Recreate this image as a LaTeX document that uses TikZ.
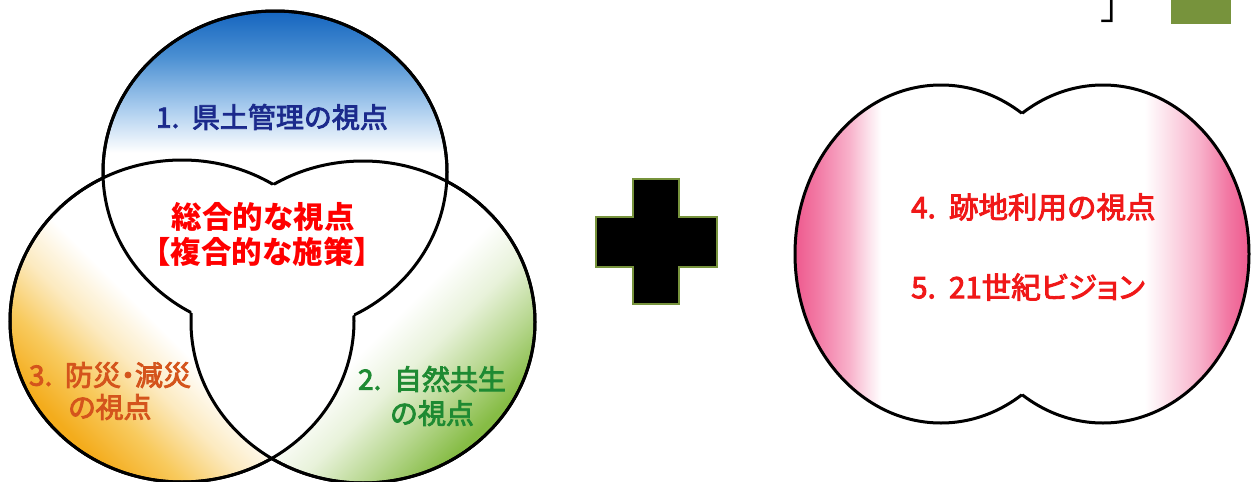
\documentclass[tikz,border=0pt]{standalone}
\usepackage{fontspec}
\newfontfamily\jp{Noto Sans CJK JP}
\newfontfamily\jpm[FakeBold=3]{Noto Sans CJK JP}
\newfontfamily\jpp[RawFeature=+palt,FakeBold=3]{Noto Sans CJK JP}
\definecolor{blueA}{HTML}{1565BF}
\definecolor{blueB}{HTML}{4A8FD2}
\definecolor{blueC}{HTML}{A9CCEE}
\definecolor{orA}{HTML}{F4AC1C}
\definecolor{orB}{HTML}{F8CA5E}
\definecolor{orC}{HTML}{FCEAC0}
\definecolor{grA}{HTML}{86BC45}
\definecolor{grB}{HTML}{B9D892}
\definecolor{grC}{HTML}{E8F2DA}
\definecolor{pkA}{HTML}{EE5A8E}
\definecolor{pkB}{HTML}{F27AA5}
\definecolor{pkC}{HTML}{F8B2CB}
\definecolor{pkD}{HTML}{FCE0EA}
\definecolor{olv}{HTML}{77933C}
\definecolor{navy}{HTML}{1B2A8C}
\definecolor{txtor}{HTML}{D4541C}
\definecolor{txtgr}{HTML}{1E8A32}
\definecolor{txtrd}{HTML}{FF0000}
\definecolor{txtpk}{HTML}{F01818}
\pgfdeclareverticalshading{topsh}{100bp}{color(0bp)=(white); color(53bp)=(white); color(60bp)=(blueC); color(68bp)=(blueB); color(75bp)=(blueA); color(100bp)=(blueA)}
\pgfdeclareverticalshading{orsh}{100bp}{color(0bp)=(orA); color(26bp)=(orA); color(33bp)=(orB); color(40bp)=(orC); color(47bp)=(white); color(100bp)=(white)}
\pgfdeclareverticalshading{grsh}{100bp}{color(0bp)=(grA); color(26bp)=(grA); color(33bp)=(grB); color(40bp)=(grC); color(47bp)=(white); color(100bp)=(white)}
\pgfdeclarehorizontalshading{pksh}{100bp}{color(0bp)=(pkA); color(25bp)=(pkA); color(27.5bp)=(pkB); color(31bp)=(pkC); color(33bp)=(pkD); color(34.5bp)=(white); color(63.5bp)=(white); color(66bp)=(pkD); color(69.5bp)=(pkC); color(72.5bp)=(pkB); color(75bp)=(pkA); color(100bp)=(pkA)}
\newcommand\numgap{\hspace{0.45em}}
\begin{document}
\begin{tikzpicture}[x=1pt,y=-1pt,
  outl/.style={line width=3pt, black},
  outer/.style={insert path={(-20,-20) -- (-20,520) -- (1290,520) -- (1290,-20) -- cycle}},
  lbl/.style={inner sep=0pt, font=\jpm\fontsize{28}{28}\selectfont}]
\useasboundingbox (0,0) rectangle (1251,482);
\fill[white] (0,0) rectangle (1251,482);
\coordinate (cT) at (275,172);
\coordinate (cL) at (182,321);
\coordinate (cR) at (363,322);
\coordinate (pL) at (941,254);
\coordinate (pR) at (1103,254);
% fills of exclusive regions
\begin{scope}
  \clip (cL) ellipse (172 and 161) [outer];
  \clip (cR) ellipse (172 and 161) [outer];
  \shade[shading=topsh] (cT) ellipse (172 and 161);
\end{scope}
\begin{scope}
  \clip (cT) ellipse (172 and 161) [outer];
  \clip (cR) ellipse (172 and 161) [outer];
  \shade[shading=orsh, shading angle=-45] (cL) ellipse (172 and 161);
\end{scope}
\begin{scope}
  \clip (cT) ellipse (172 and 161) [outer];
  \clip (cL) ellipse (172 and 161) [outer];
  \shade[shading=grsh, shading angle=45] (cR) ellipse (172 and 161);
\end{scope}
% outlines
\begin{scope}\clip (cL) ellipse (172 and 161) [outer]; \draw[outl] (cT) ellipse (172 and 161); \end{scope}
\begin{scope}\clip (cR) ellipse (172 and 161) [outer]; \draw[outl] (cT) ellipse (172 and 161); \end{scope}
\begin{scope}\clip (cT) ellipse (172 and 161) [outer]; \draw[outl] (cL) ellipse (172 and 161); \end{scope}
\begin{scope}\clip (cR) ellipse (172 and 161) [outer]; \draw[outl] (cL) ellipse (172 and 161); \end{scope}
\begin{scope}\clip (cT) ellipse (172 and 161) [outer]; \draw[outl] (cR) ellipse (172 and 161); \end{scope}
\begin{scope}\clip (cL) ellipse (172 and 161) [outer]; \draw[outl] (cR) ellipse (172 and 161); \end{scope}
% pink shape
\shade[shading=pksh] (pL) ellipse (146 and 169) (pR) ellipse (146 and 169);
\begin{scope}\clip (pR) ellipse (146 and 169) [outer]; \draw[outl] (pL) ellipse (146 and 169); \end{scope}
\begin{scope}\clip (pL) ellipse (146 and 169) [outer]; \draw[outl] (pR) ellipse (146 and 169); \end{scope}
% plus sign
\draw[fill=black, draw=olv, line width=1.5pt] (633,179) -- (679,179) -- (679,217) -- (717,217) -- (717,267) -- (679,267) -- (679,304) -- (633,304) -- (633,267) -- (596,267) -- (596,217) -- (633,217) -- cycle;
% top right
\fill[olv] (1171,0) rectangle (1231,24);
\node[inner sep=0pt, anchor=base west, font=\jp\fontsize{36}{36}\selectfont] (n0) at (1100,19.6) {」};
% labels
\node[lbl, text=navy] (n1) at (272,117) {1.\numgap 県土管理の視点};
\node[lbl, text=txtrd, font=\jp\bfseries\fontsize{30.5}{30.5}\selectfont] (n2) at (263,217) {総合的な視点};
\node[lbl, text=txtrd, font=\jp\bfseries\fontsize{30.5}{30.5}\selectfont] (n3) at (262,252) {【複合的な施策】};
\node[lbl, text=txtor, align=center, font=\jpp\fontsize{28}{32}\selectfont] (n4) at (110,391) {3.\numgap 防災・減災\\の視点};
\node[lbl, text=txtgr, align=center, font=\jpm\fontsize{28}{34}\selectfont] (n5) at (432,396) {2.\numgap 自然共生\\の視点};
\node[lbl, text=txtpk, anchor=west, font=\jpm\fontsize{29.5}{29.5}\selectfont] (n6) at (911,207) {4.\numgap 跡地利用の視点};
\node[lbl, text=txtpk, anchor=west, font=\jpp\fontsize{29.5}{29.5}\selectfont] (n7) at (911,287) {5.\numgap 21世紀ビジョン};
\end{tikzpicture}
\end{document}
